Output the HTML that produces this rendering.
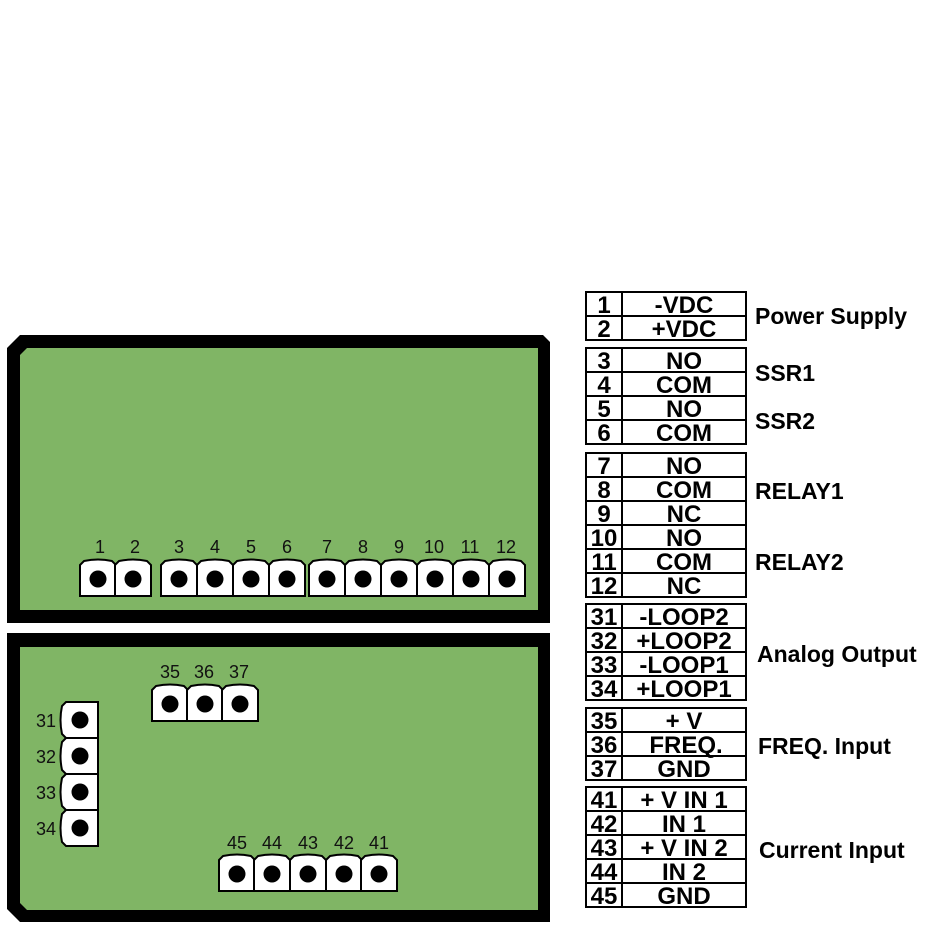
<!DOCTYPE html>
<html><head><meta charset="utf-8"><style>
html,body{margin:0;padding:0;background:#fff;}
svg{display:block;}
text{font-family:"Liberation Sans",Arial,sans-serif;}
</style></head><body>
<svg width="930" height="930" viewBox="0 0 930 930" xmlns="http://www.w3.org/2000/svg">
<defs>
<g id="t"><path d="M0,5 L4,1 Q18,-2 32,1 L36,5 V36 H0 Z" fill="#fff" stroke="#000" stroke-width="2"/><circle cx="18" cy="19" r="8.5" fill="#000"/></g>
<g id="tv"><path d="M5,0 H37 V36 H5 L1,32 Q-2,18 1,4 Z" fill="#fff" stroke="#000" stroke-width="2"/><circle cx="19" cy="18" r="8.5" fill="#000"/></g>
</defs>
<polygon points="20,335 543,335 550,342 550,623 7,623 7,348" fill="#000"/>
<polygon points="27,348 538,348 538,610 20,610 20,355" fill="#80b565"/>
<polygon points="7,633 550,633 550,922 20,922 7,909" fill="#000"/>
<polygon points="20,647 538,647 538,910 27,910 20,903" fill="#80b565"/>
<g font-size="18" fill="#111">
<text x="100" y="553" text-anchor="middle">1</text><text x="135" y="553" text-anchor="middle">2</text>
<text x="179" y="553" text-anchor="middle">3</text><text x="215" y="553" text-anchor="middle">4</text>
<text x="251" y="553" text-anchor="middle">5</text><text x="287" y="553" text-anchor="middle">6</text>
<text x="327" y="553" text-anchor="middle">7</text><text x="363" y="553" text-anchor="middle">8</text>
<text x="399" y="553" text-anchor="middle">9</text><text x="434" y="553" text-anchor="middle">10</text>
<text x="470" y="553" text-anchor="middle">11</text><text x="506" y="553" text-anchor="middle">12</text>
<text x="170" y="678" text-anchor="middle">35</text><text x="204" y="678" text-anchor="middle">36</text><text x="239" y="678" text-anchor="middle">37</text>
<text x="46" y="727" text-anchor="middle">31</text><text x="46" y="763" text-anchor="middle">32</text>
<text x="46" y="799" text-anchor="middle">33</text><text x="46" y="835" text-anchor="middle">34</text>
<text x="237" y="849" text-anchor="middle">45</text><text x="272" y="849" text-anchor="middle">44</text>
<text x="308" y="849" text-anchor="middle">43</text><text x="344" y="849" text-anchor="middle">42</text>
<text x="379" y="849" text-anchor="middle">41</text>
</g>
<use href="#t" x="80" y="560"/><use href="#t" x="115" y="560"/>
<use href="#t" x="161" y="560"/><use href="#t" x="197" y="560"/><use href="#t" x="233" y="560"/><use href="#t" x="269" y="560"/>
<use href="#t" x="309" y="560"/><use href="#t" x="345" y="560"/><use href="#t" x="381" y="560"/><use href="#t" x="417" y="560"/><use href="#t" x="453" y="560"/><use href="#t" x="489" y="560"/>
<use href="#t" x="152" y="685"/><use href="#t" x="187" y="685"/><use href="#t" x="222" y="685"/>
<use href="#tv" x="61" y="702"/><use href="#tv" x="61" y="738"/><use href="#tv" x="61" y="774"/><use href="#tv" x="61" y="810"/>
<use href="#t" x="219" y="855"/><use href="#t" x="254" y="855"/><use href="#t" x="290" y="855"/><use href="#t" x="326" y="855"/><use href="#t" x="361" y="855"/>
<g fill="none" stroke="#000" stroke-width="2">
<rect x="586" y="292" width="160" height="48"/><rect x="586" y="348" width="160" height="96"/>
<rect x="586" y="453" width="160" height="144"/><rect x="586" y="604" width="160" height="96"/>
<rect x="586" y="708" width="160" height="72"/><rect x="586" y="787" width="160" height="120"/>
<path d="M622,292V340M622,348V444M622,453V597M622,604V700M622,708V780M622,787V907"/>
<path d="M586,316H746M586,372H746M586,396H746M586,420H746M586,477H746M586,501H746M586,525H746M586,549H746M586,573H746M586,628H746M586,652H746M586,676H746M586,732H746M586,756H746M586,811H746M586,835H746M586,859H746M586,883H746"/>
</g>
<g font-size="24" font-weight="bold" fill="#000">
<g text-anchor="middle">
<text x="604" y="313">1</text><text x="604" y="337">2</text>
<text x="604" y="369">3</text><text x="604" y="393">4</text><text x="604" y="417">5</text><text x="604" y="441">6</text>
<text x="604" y="474">7</text><text x="604" y="498">8</text><text x="604" y="522">9</text><text x="604" y="546">10</text><text x="604" y="570">11</text><text x="604" y="594">12</text>
<text x="604" y="625">31</text><text x="604" y="649">32</text><text x="604" y="673">33</text><text x="604" y="697">34</text>
<text x="604" y="729">35</text><text x="604" y="753">36</text><text x="604" y="777">37</text>
<text x="604" y="808">41</text><text x="604" y="832">42</text><text x="604" y="856">43</text><text x="604" y="880">44</text><text x="604" y="904">45</text>
<text x="684" y="313">-VDC</text><text x="684" y="337">+VDC</text>
<text x="684" y="369">NO</text><text x="684" y="393">COM</text><text x="684" y="417">NO</text><text x="684" y="441">COM</text>
<text x="684" y="474">NO</text><text x="684" y="498">COM</text><text x="684" y="522">NC</text><text x="684" y="546">NO</text><text x="684" y="570">COM</text><text x="684" y="594">NC</text>
<text x="684" y="625">-LOOP2</text><text x="684" y="649">+LOOP2</text><text x="684" y="673">-LOOP1</text><text x="684" y="697">+LOOP1</text>
<text x="684" y="729">+ V</text><text x="686" y="753">FREQ.</text><text x="684" y="777">GND</text>
<text x="684" y="808">+ V IN 1</text><text x="684" y="832">IN 1</text><text x="684" y="856">+ V IN 2</text><text x="684" y="880">IN 2</text><text x="684" y="904">GND</text>
</g>
</g>
<g font-size="23" font-weight="bold" fill="#000">
<text x="755" y="324">Power Supply</text>
<text x="755" y="381">SSR1</text><text x="755" y="429">SSR2</text>
<text x="755" y="499">RELAY1</text><text x="755" y="570">RELAY2</text>
<text x="757" y="662">Analog Output</text>
<text x="758" y="754">FREQ. Input</text>
<text x="759" y="858">Current Input</text>
</g>
</svg>
</body></html>
